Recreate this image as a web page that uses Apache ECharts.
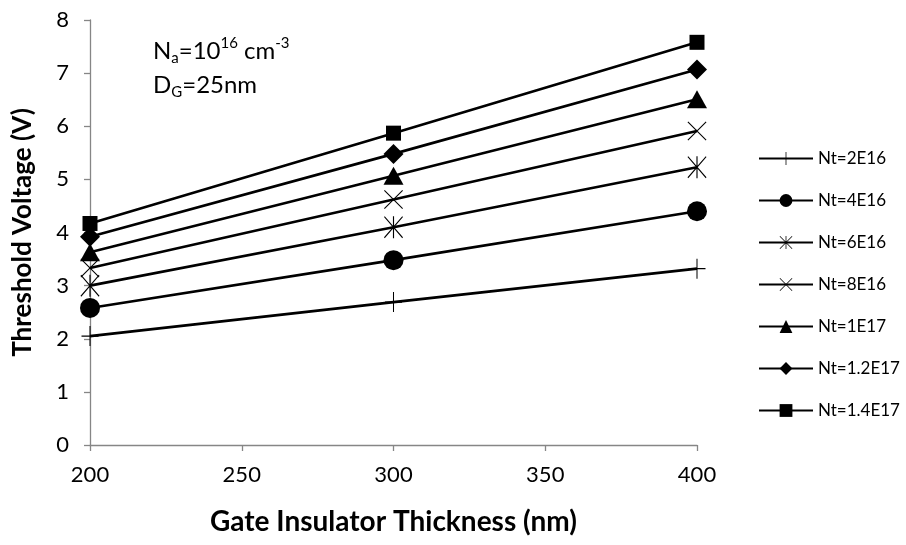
<!DOCTYPE html>
<html>
<head>
<meta charset="utf-8">
<script src="https://cdn.jsdelivr.net/npm/echarts@6/dist/echarts.min.js"></script>
<style>
  html, body { margin: 0; padding: 0; background: #fff; }
  #chart { width: 906px; height: 545px; }
</style>
</head>
<body>
<div id="chart"></div>
<script>
// gate insulator thickness (nm)
var thickness = [200, 300, 400]
var seriesNames = ['Nt=2E16', 'Nt=4E16', 'Nt=6E16', 'Nt=8E16', 'Nt=1E17', 'Nt=1.2E17', 'Nt=1.4E17']
// threshold voltage (V), one array per trap density
var vt2e16 = [2.05, 2.69, 3.32]
var vt4e16 = [2.58, 3.48, 4.40]
var vt6e16 = [3.00, 4.10, 5.23]
var vt8e16 = [3.33, 4.62, 5.91]
var vt1e17 = [3.63, 5.07, 6.51]
var vt12e17 = [3.92, 5.48, 7.07]
var vt14e17 = [4.17, 5.87, 7.58]
var yTicks = [0, 1, 2, 3, 4, 5, 6, 7, 8]

var FONT = 'Lato, "Open Sans", sans-serif'
var plusPath = 'path://M0,9.4H20V10.6H0Z M9.4,0H10.6V20H9.4Z'
var crossPath = 'path://M0,0.8L0.8,0L20,19.2L19.2,20Z M19.2,0L20,0.8L0.8,20L0,19.2Z'
var starPath = 'path://M0,0.8L0.8,0L20,19.2L19.2,20Z M19.2,0L20,0.8L0.8,20L0,19.2Z M9.4,0H10.6V20H9.4Z'

var allValues = [vt2e16, vt4e16, vt6e16, vt8e16, vt1e17, vt12e17, vt14e17]
var symbols = [plusPath, 'circle', starPath, crossPath, 'triangle', 'diamond', 'rect']
var sizes = [[17, 20], 20, [19, 22], [19, 19], [20, 18], [20, 20], [15, 15]]

function pairs(vals) {
  return thickness.map(function(t, i) { return [t, vals[i]] })
}

var series = allValues.map(function(vals, i) {
  return {
    name: seriesNames[i],
    type: 'line',
    data: pairs(vals),
    symbol: symbols[i],
    symbolSize: sizes[i],
    showAllSymbol: true,
    lineStyle: { color: '#000', width: 2.6 },
    itemStyle: { color: '#000' },
    z: 2 + i,
    animation: false
  }
})

var chart = echarts.init(document.getElementById('chart'))
chart.setOption({
  backgroundColor: '#fff',
  animation: false,
  grid: { left: 90, right: 209, top: 20, bottom: 100 },
  xAxis: {
    type: 'value',
    min: 200,
    max: 400,
    interval: 50,
    name: 'Gate Insulator Thickness (nm)',
    nameLocation: 'middle',
    nameGap: 63,
    nameTextStyle: { fontFamily: FONT, fontSize: 28, fontWeight: 'bold', color: '#000' },
    axisLine: { lineStyle: { color: '#868686', width: 1.3 } },
    axisTick: { length: 6, lineStyle: { color: '#868686', width: 1.3 } },
    axisLabel: { fontFamily: FONT, fontSize: 22, color: '#000', margin: 19 },
    splitLine: { show: false }
  },
  yAxis: {
    type: 'value',
    min: yTicks[0],
    max: yTicks[yTicks.length - 1],
    interval: 1,
    name: 'Threshold Voltage (V)',
    nameLocation: 'middle',
    nameGap: 54,
    nameTextStyle: { fontFamily: FONT, fontSize: 26, fontWeight: 'bold', color: '#000' },
    axisLine: { show: true, lineStyle: { color: '#868686', width: 1.3 } },
    axisTick: { show: true, length: 6, lineStyle: { color: '#868686', width: 1.3 } },
    axisLabel: { fontFamily: FONT, fontSize: 22, color: '#000', margin: 21 },
    splitLine: { show: false }
  },
  legend: {
    orient: 'vertical',
    left: 753,
    top: 145,
    itemWidth: 54,
    itemHeight: 16,
    itemGap: 25,
    data: seriesNames,
    textStyle: { fontFamily: FONT, fontSize: 17, color: '#000' }
  },
  graphic: [
    {
      type: 'text',
      left: 153,
      top: 36,
      style: {
        text: '{n|N}{sub|a}{n|=10}{sup|16}{n| cm}{sup|-3}',
        rich: {
          n: { fontFamily: FONT, fontSize: 24, color: '#000', lineHeight: 30, verticalAlign: 'middle' },
          sub: { fontFamily: FONT, fontSize: 15, color: '#000', lineHeight: 30, verticalAlign: 'bottom' },
          sup: { fontFamily: FONT, fontSize: 15, color: '#000', lineHeight: 30, verticalAlign: 'top' }
        }
      }
    },
    {
      type: 'text',
      left: 153,
      top: 73,
      style: {
        text: '{n|D}{sub|G}{n|=25nm}',
        rich: {
          n: { fontFamily: FONT, fontSize: 24, color: '#000', lineHeight: 30, verticalAlign: 'middle' },
          sub: { fontFamily: FONT, fontSize: 15, color: '#000', lineHeight: 30, verticalAlign: 'bottom' }
        }
      }
    }
  ],
  series: series
})
</script>
</body>
</html>
